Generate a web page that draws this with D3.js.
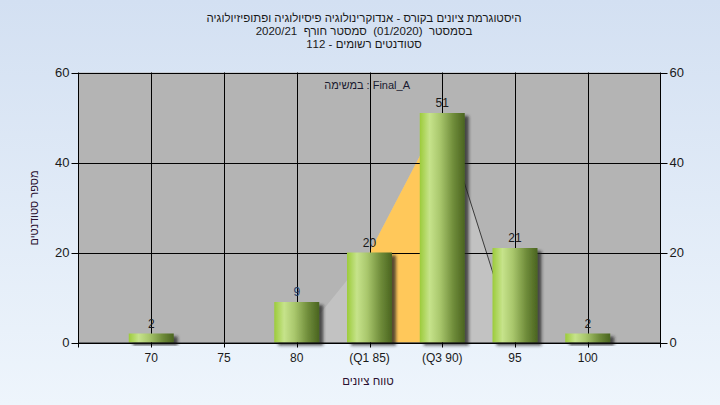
<!DOCTYPE html>
<html><head><meta charset="utf-8">
<script src="https://cdn.jsdelivr.net/npm/d3@7"></script>
<style>html,body{margin:0;padding:0;}svg{display:block;}text{white-space:pre;}</style>
</head><body>
<script>
const categories = ["70","75","80","(Q1 85)","(Q3 90)","95","100"];
const counts = [2,0,9,20,51,21,2];
const areaCats = ["80","(Q1 85)","(Q3 90)","95"];
const areaValues = [0,20,51,0];
const yTicks = [0,20,40,60];
const titleLines = ["היסטוגרמת ציונים בקורס - אנדוקרינולוגיה פיסיולוגיה ופתופיזיולוגיה","בסמסטר  (01/2020)  סמסטר חורף  2020/21","סטודנטים רשומים - 112"];
const legendText = "במשימה : Final_A";
const xTitle = "טווח ציונים";
const yTitle = "מספר סטודנטים";

(function(){
const W=720,H=405;
const pL=78.5,pR=660.5,pT=72.5,pB=342.5;
const svg=d3.select("body").append("svg").attr("width",W).attr("height",H);
const defs=svg.append("defs");
const bg=defs.append("linearGradient").attr("id","bg").attr("x1",0).attr("y1",0).attr("x2",0).attr("y2",1);
bg.append("stop").attr("offset","0%").attr("stop-color","#d3e0f2");
bg.append("stop").attr("offset","100%").attr("stop-color","#eef5fc");
const bar=defs.append("linearGradient").attr("id","bar").attr("x1",0).attr("y1",0).attr("x2",1).attr("y2",0);
[["0%","#9ccb3b"],["22%","#c6e38b"],["45%","#a9c76c"],["75%","#6f8c3a"],["100%","#4a6420"]].forEach(s=>bar.append("stop").attr("offset",s[0]).attr("stop-color",s[1]));
const f=defs.append("filter").attr("id","sh").attr("x","-20%").attr("y","-20%").attr("width","150%").attr("height","150%");
f.append("feDropShadow").attr("dx",4).attr("dy",3).attr("stdDeviation",1.8).attr("flood-color","#222").attr("flood-opacity",0.75);

svg.append("rect").attr("width",W).attr("height",H).attr("fill","url(#bg)");

const x=d3.scalePoint().domain(categories).range([pL,pR]).padding(1);
const y=d3.scaleLinear().domain([0,60]).range([pB,pT]);
const bw=45;

svg.append("rect").attr("x",pL).attr("y",pT).attr("width",pR-pL).attr("height",pB-pT).attr("fill","#b4b4b4");

const pts=areaCats.map((c,i)=>[x(c),y(areaValues[i])]);
const area=d3.area().x(d=>d[0]).y0(y(0)).y1(d=>d[1]);
svg.append("path").attr("d",area(pts)).attr("fill","#c2c2c2");
svg.append("path").attr("d",area(pts.slice(1,3))).attr("fill","#ffc85a");
svg.append("path").attr("d",d3.line()(pts.slice(2,4))).attr("stroke","#3a3a3a").attr("stroke-width",1).attr("fill","none");

const g=svg.append("g").attr("stroke","#000").attr("stroke-width",1);
yTicks.forEach(t=>g.append("line").attr("x1",pL).attr("x2",pR).attr("y1",Math.round(y(t))+0.5).attr("y2",Math.round(y(t))+0.5));
categories.forEach(c=>g.append("line").attr("x1",Math.round(x(c))+0.5).attr("x2",Math.round(x(c))+0.5).attr("y1",pT).attr("y2",pB));

svg.append("g").selectAll("rect").data(categories.map((c,i)=>({c,v:counts[i]})).filter(d=>d.v>0)).join("rect")
 .attr("x",d=>x(d.c)-bw/2).attr("y",d=>y(d.v)).attr("width",bw).attr("height",d=>y(0)-y(d.v))
 .attr("fill","url(#bar)").attr("filter","url(#sh)");

const ax=svg.append("g").attr("stroke","#000").attr("stroke-width",1);
ax.append("line").attr("x1",pL).attr("x2",pL).attr("y1",pT).attr("y2",pB+5);
ax.append("line").attr("x1",pR).attr("x2",pR).attr("y1",pT).attr("y2",pB+5);
ax.append("line").attr("x1",pL).attr("x2",pR).attr("y1",pB+0.5).attr("y2",pB+0.5);
categories.forEach(c=>ax.append("line").attr("x1",Math.round(x(c))+0.5).attr("x2",Math.round(x(c))+0.5).attr("y1",pB).attr("y2",pB+5));
yTicks.forEach(t=>{
  const yy=Math.round(y(t))+0.5;
  ax.append("line").attr("x1",pL-7).attr("x2",pL).attr("y1",yy).attr("y2",yy);
  ax.append("line").attr("x1",pR).attr("x2",pR+7).attr("y1",yy).attr("y2",yy);
});
const font="'Liberation Sans', Arial, sans-serif";
const lab=svg.append("g").attr("font-family",font).attr("font-size",12).attr("fill","#1a1a1a");
yTicks.forEach(t=>{
  lab.append("text").attr("x",pL-9).attr("y",y(t)+4.5).attr("text-anchor","end").attr("font-size",13).text(t);
  lab.append("text").attr("x",pR+9).attr("y",y(t)+4.5).attr("text-anchor","start").attr("font-size",13).text(t);
});
categories.forEach(c=>lab.append("text").attr("x",x(c)).attr("y",362).attr("text-anchor","middle").text(c));
categories.forEach((c,i)=>{ if(counts[i]>0) lab.append("text").attr("x",x(c)).attr("y",y(counts[i])-6).attr("text-anchor","middle").attr("fill",counts[i]===9?"#1f3f6a":"#1a1a1a").text(counts[i]);});
titleLines.forEach((t,i)=>lab.append("text").attr("x",364).attr("y",22+i*13).attr("text-anchor","middle").attr("direction","rtl").attr("font-size",11.5).text(t));
lab.append("text").attr("x",410).attr("y",89).attr("text-anchor","end").attr("font-size",11).attr("fill","#1a1a30").text(legendText);
lab.append("text").attr("x",368).attr("y",385).attr("text-anchor","middle").attr("font-size",11.5).attr("fill","#2a1030").text(xTitle);
lab.append("text").attr("transform","translate(38,208) rotate(-90)").attr("text-anchor","middle").attr("font-size",11).attr("fill","#2a1030").text(yTitle);
})();
</script>
</body></html>
